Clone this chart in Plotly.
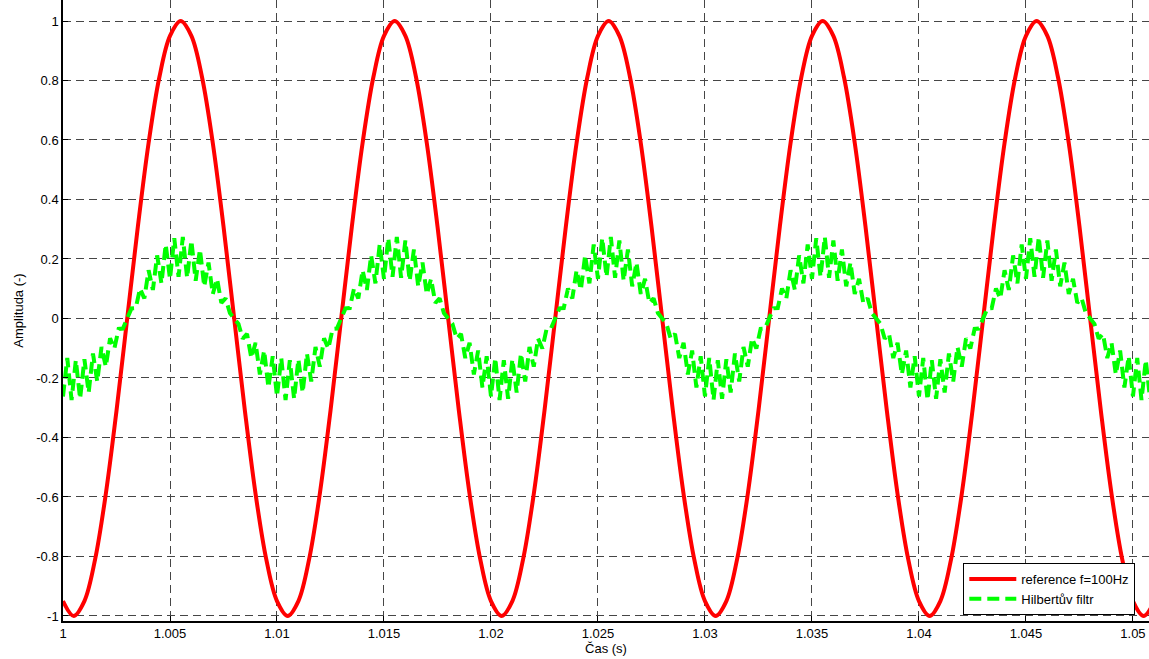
import numpy as np
import plotly.graph_objects as go

# Time grid (s)
t_start = 1.0
red_step = 0.0005
green_step = 0.0002

# reference f=100Hz (sampled every 0.5 ms)
reference_vals = [
    -0.95, -1.0, -0.95, -0.81, -0.59, -0.31, 0.0, 0.31, 0.59, 0.81, 0.95, 1.0, 0.95, 0.81, 0.59, 0.31, 0.0, -0.31, -0.59, -0.81,
    -0.95, -1.0, -0.95, -0.81, -0.59, -0.31, 0.0, 0.31, 0.59, 0.81, 0.95, 1.0, 0.95, 0.81, 0.59, 0.31, 0.0, -0.31, -0.59, -0.81,
    -0.95, -1.0, -0.95, -0.81, -0.59, -0.31, 0.0, 0.31, 0.59, 0.81, 0.95, 1.0, 0.95, 0.81, 0.59, 0.31, 0.0, -0.31, -0.59, -0.81,
    -0.95, -1.0, -0.95, -0.81, -0.59, -0.31, 0.0, 0.31, 0.59, 0.81, 0.95, 1.0, 0.95, 0.81, 0.59, 0.31, 0.0, -0.31, -0.59, -0.81,
    -0.95, -1.0, -0.95, -0.81, -0.59, -0.31, 0.0, 0.31, 0.59, 0.81, 0.95, 1.0, 0.95, 0.81, 0.59, 0.31, 0.0, -0.31, -0.59, -0.81,
    -0.95, -1.0, -0.95,
]

# Hilbertův filtr (sampled every 0.2 ms)
hilbert_vals = [
    -0.262, -0.133, -0.274, -0.140, -0.270, -0.137, -0.249, -0.118, -0.212, -0.096,
    -0.162, -0.067, -0.101, -0.035, -0.034, 0.0, 0.034, 0.035, 0.101, 0.067,
    0.162, 0.096, 0.212, 0.118, 0.249, 0.133, 0.270, 0.140, 0.274, 0.137,
    0.262, 0.127, 0.232, 0.108, 0.188, 0.082, 0.133, 0.052, 0.068, 0.018,
    0.0, -0.018, -0.068, -0.052, -0.133, -0.082, -0.188, -0.108, -0.232, -0.127,
    -0.262, -0.133, -0.274, -0.140, -0.270, -0.137, -0.249, -0.118, -0.212, -0.096,
    -0.162, -0.067, -0.101, -0.035, -0.034, 0.0, 0.034, 0.035, 0.101, 0.067,
    0.162, 0.096, 0.212, 0.118, 0.249, 0.133, 0.270, 0.140, 0.274, 0.137,
    0.262, 0.127, 0.232, 0.108, 0.188, 0.082, 0.133, 0.052, 0.068, 0.018,
    0.0, -0.018, -0.068, -0.052, -0.133, -0.082, -0.188, -0.108, -0.232, -0.127,
    -0.262, -0.133, -0.274, -0.140, -0.270, -0.137, -0.249, -0.118, -0.212, -0.096,
    -0.162, -0.067, -0.101, -0.035, -0.034, 0.0, 0.034, 0.035, 0.101, 0.067,
    0.162, 0.096, 0.212, 0.118, 0.249, 0.133, 0.270, 0.140, 0.274, 0.137,
    0.262, 0.127, 0.232, 0.108, 0.188, 0.082, 0.133, 0.052, 0.068, 0.018,
    0.0, -0.018, -0.068, -0.052, -0.133, -0.082, -0.188, -0.108, -0.232, -0.127,
    -0.262, -0.133, -0.274, -0.140, -0.270, -0.137, -0.249, -0.118, -0.212, -0.096,
    -0.162, -0.067, -0.101, -0.035, -0.034, 0.0, 0.034, 0.035, 0.101, 0.067,
    0.162, 0.096, 0.212, 0.118, 0.249, 0.133, 0.270, 0.140, 0.274, 0.137,
    0.262, 0.127, 0.232, 0.108, 0.188, 0.082, 0.133, 0.052, 0.068, 0.018,
    0.0, -0.018, -0.068, -0.052, -0.133, -0.082, -0.188, -0.108, -0.232, -0.127,
    -0.262, -0.133, -0.274, -0.140, -0.270, -0.137, -0.249, -0.118, -0.212, -0.096,
    -0.162, -0.067, -0.101, -0.035, -0.034, 0.0, 0.034, 0.035, 0.101, 0.067,
    0.162, 0.096, 0.212, 0.118, 0.249, 0.133, 0.270, 0.140, 0.274, 0.137,
    0.262, 0.127, 0.232, 0.108, 0.188, 0.082, 0.133, 0.052, 0.068, 0.018,
    0.0, -0.018, -0.068, -0.052, -0.133, -0.082, -0.188, -0.108, -0.232, -0.127,
    -0.262, -0.133, -0.274, -0.140, -0.270,
]

x_tickvals = [1.0, 1.005, 1.01, 1.015, 1.02, 1.025, 1.03, 1.035, 1.04, 1.045, 1.05]
x_ticktext = ["1", "1.005", "1.01", "1.015", "1.02", "1.025", "1.03", "1.035", "1.04", "1.045", "1.05"]
y_tickvals = [1, 0.8, 0.6, 0.4, 0.2, 0, -0.2, -0.4, -0.6, -0.8, -1]
y_ticktext = ["1", "0.8", "0.6", "0.4", "0.2", "0", "-0.2", "-0.4", "-0.6", "-0.8", "-1"]

t_red = t_start + red_step * np.arange(len(reference_vals))
t_green = t_start + green_step * np.arange(len(hilbert_vals))

font_family = "Liberation Sans, Arial, sans-serif"

fig = go.Figure()
fig.add_trace(go.Scatter(
    x=t_red, y=reference_vals, mode="lines", name="reference f=100Hz",
    line=dict(color="#ff0000", width=4, shape="spline", smoothing=1.0),
))
fig.add_trace(go.Scatter(
    x=t_green, y=hilbert_vals, mode="lines", name="Hilbertův filtr",
    line=dict(color="#00ff00", width=4, dash="12px,6px"),
))

axis_common = dict(
    showline=True, linecolor="black", linewidth=1.5,
    ticks="inside", ticklen=5, tickcolor="black", tickwidth=1,
    showgrid=True, gridcolor="rgb(70,70,70)", gridwidth=1, griddash="8px,5px",
    zeroline=False, mirror=False, automargin=False,
    tickfont=dict(family=font_family, size=13, color="black"),
)

fig.update_layout(
    width=1149, height=659,
    margin=dict(l=63, r=0, t=0, b=38),
    paper_bgcolor="white", plot_bgcolor="white",
    font=dict(family=font_family, size=13, color="black"),
    showlegend=True,
    legend=dict(
        x=0.829, y=0.0934, xanchor="left", yanchor="top",
        bgcolor="white", bordercolor="black", borderwidth=1,
        font=dict(family=font_family, size=13, color="black"),
        tracegroupgap=0, itemwidth=47,
    ),
    xaxis=dict(
        range=[1.0, 1.05075], tickvals=x_tickvals, ticktext=x_ticktext,
        title=dict(text="Čas (s)", standoff=1, font=dict(family=font_family, size=13)),
        **axis_common,
    ),
    yaxis=dict(
        range=[-1.017, 1.0706], tickvals=y_tickvals, ticktext=y_ticktext,
        title=dict(text="Amplituda (-)", standoff=10, font=dict(family=font_family, size=13)),
        **axis_common,
    ),
)

fig.write_html(
    "out.html",
    config={"displayModeBar": False},
    post_script="document.body.style.margin='0';document.body.style.overflow='hidden';",
)
